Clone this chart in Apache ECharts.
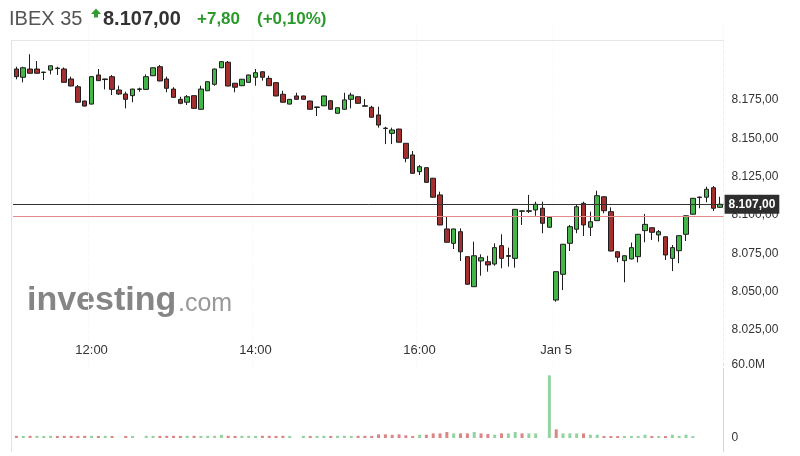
<!DOCTYPE html>
<html>
<head>
<meta charset="utf-8">
<script src="https://cdn.jsdelivr.net/npm/echarts@6/dist/echarts.min.js"></script>
<style>
html,body{margin:0;padding:0;background:#fff;}
#c{width:800px;height:456px;}
</style>
</head>
<body>
<div id="c"></div>
<script>
// ---------- DATA ----------
const categories = [
'11:05','11:10','11:15','11:20','11:25','11:30','11:35','11:40','11:45','11:50','11:55',
'12:00','12:05','12:10','12:15','12:20','12:25','12:30','12:35','12:40','12:45','12:50','12:55',
'13:00','13:05','13:10','13:15','13:20','13:25','13:30','13:35','13:40','13:45','13:50','13:55',
'14:00','14:05','14:10','14:15','14:20','14:25','14:30','14:35','14:40','14:45','14:50','14:55',
'15:00','15:05','15:10','15:15','15:20','15:25','15:30','15:35','15:40','15:45','15:50','15:55',
'16:00','16:05','16:10','16:15','16:20','16:25','16:30','16:35','16:40','16:45','16:50','16:55',
'17:00','17:05','17:10','17:15','17:20','17:25','17:30','17:35',
'Jan 5','09:05','09:10','09:15','09:20','09:25','09:30','09:35','09:40','09:45','09:50','09:55',
'10:00','10:05','10:10','10:15','10:20','10:25','10:30','10:35','10:40','10:45','10:50','10:55',
'11:00'
];
const xTickLabels = ['12:00','14:00','16:00','Jan 5'];
const openV = [
8195.3,8189.9,8195.3,8195.3,8193.3,8194.6,8195.6,8195.3,8188.8,8183.7,
8174.4,8172.4,8191.4,8188.8,8190.3,8181.6,8179.0,8177.9,8182.0,8182.0,
8190.9,8196.8,8188.8,8182.2,8175.5,8173.6,8177.9,8169.0,8181.1,8185.3,
8196.1,8199.7,8186.0,8184.4,8186.6,8189.9,8193.5,8189.2,8186.4,8178.8,
8172.4,8177.7,8177.7,8174.4,8170.5,8171.3,8174.6,8166.4,8169.0,8175.5,
8177.2,8171.3,8170.3,8165.3,8156.5,8153.3,8156.1,8146.8,8139.2,8128.3,
8130.9,8124.0,8113.1,8090.9,8081.5,8089.1,8072.8,8053.2,8070.0,8069.5,
8068.0,8080.0,8073.5,8071.7,8102.4,8102.4,8103.3,8104.4,8092.0,8044.5,
8061.3,8081.5,8090.7,8107.6,8092.0,8096.3,8111.9,8102.2,8076.0,8070.2,
8071.3,8072.8,8089.8,8091.7,8087.0,8085.8,8071.7,8076.7,8087.4,8100.5,
8111.4,8111.6,8117.8,8105.0
];
const closeV = [
8190.3,8196.1,8192.5,8192.5,8193.0,8197.4,8195.9,8186.6,8184.2,8173.6,
8171.1,8190.3,8187.7,8188.4,8182.0,8179.0,8175.5,8182.2,8182.3,8190.3,
8196.1,8187.5,8182.7,8176.8,8172.9,8177.2,8169.6,8182.2,8187.0,8195.3,
8200.1,8184.2,8183.4,8188.6,8191.4,8192.9,8189.9,8184.4,8177.7,8173.6,
8175.5,8175.5,8175.5,8169.0,8170.2,8177.7,8169.0,8170.0,8175.1,8178.3,
8172.9,8171.0,8163.8,8158.7,8156.7,8155.5,8147.5,8137.0,8127.2,8131.5,
8121.3,8111.6,8093.5,8082.2,8090.9,8076.0,8054.8,8073.4,8072.1,8067.4,
8078.7,8071.7,8073.0,8103.7,8102.7,8102.8,8107.0,8094.6,8098.5,8063.0,
8080.9,8092.4,8105.4,8093.5,8095.6,8112.6,8102.8,8076.5,8072.4,8073.4,
8078.7,8087.4,8093.9,8088.7,8089.1,8073.9,8078.7,8086.5,8099.5,8110.9,
8111.7,8116.8,8104.4,8107.0
];
const lowV = [
8188.6,8186.6,8192.5,8192.5,8188.1,8191.8,8191.4,8186.4,8184.0,8173.4,
8170.9,8172.2,8187.5,8182.0,8178.3,8178.3,8169.6,8173.6,8180.5,8181.8,
8190.7,8187.3,8180.1,8176.6,8172.3,8171.8,8169.4,8168.8,8180.9,8184.4,
8195.9,8184.0,8180.1,8184.2,8186.4,8184.4,8187.7,8184.2,8177.5,8173.4,
8172.2,8175.3,8175.3,8168.8,8164.6,8171.1,8168.8,8166.2,8168.8,8169.6,
8172.7,8170.9,8163.6,8157.0,8146.3,8146.3,8147.3,8134.4,8127.0,8126.1,
8121.1,8111.4,8093.3,8082.0,8077.8,8070.0,8054.6,8053.0,8060.4,8063.0,
8066.9,8065.2,8066.3,8065.6,8093.5,8101.3,8099.5,8088.1,8091.8,8043.4,
8051.0,8076.5,8088.1,8086.3,8086.3,8096.1,8101.1,8076.3,8069.1,8056.1,
8071.1,8069.1,8082.2,8083.7,8082.6,8070.6,8063.4,8068.5,8083.0,8100.3,
8104.4,8108.3,8102.6,8104.8
];
const highV = [
8196.8,8196.8,8204.9,8200.5,8193.5,8197.6,8196.8,8196.3,8190.3,8184.9,
8174.6,8190.5,8195.3,8189.0,8191.4,8184.4,8180.5,8182.4,8183.1,8191.8,
8196.3,8197.9,8190.3,8183.4,8177.2,8178.3,8178.1,8184.4,8187.2,8195.5,
8200.3,8200.5,8186.2,8188.8,8191.6,8195.3,8193.7,8190.9,8186.6,8181.1,
8175.7,8179.8,8177.9,8174.6,8170.7,8177.9,8174.8,8170.2,8179.8,8179.8,
8177.4,8175.7,8171.3,8170.7,8157.6,8157.0,8156.3,8147.0,8141.8,8132.6,
8131.1,8124.2,8115.2,8098.9,8091.1,8091.3,8073.0,8082.6,8074.3,8073.4,
8081.5,8087.4,8078.7,8103.9,8103.0,8113.1,8108.7,8108.7,8098.7,8063.2,
8081.1,8093.5,8107.0,8108.7,8102.2,8115.9,8112.1,8105.0,8076.2,8073.6,
8082.0,8087.6,8100.7,8091.9,8090.2,8086.0,8080.4,8086.7,8099.7,8111.1,
8112.0,8118.5,8118.9,8111.9
];
// volume in millions
const volumeM = [
1.8,1.7,1.8,1.8,1.7,1.8,1.7,1.8,1.8,1.7,1.8,1.8,1.7,1.8,1.7,
0,1.7,1.7,0,
1.8,1.8,1.7,1.8,1.8,1.7,1.8,1.8,1.7,1.8,1.8,
2.6,
1.8,1.7,1.8,1.8,1.7,1.8,1.8,1.7,1.8,1.7,
0,
1.8,1.7,1.8,1.8,1.7,1.8,1.8,1.7,1.8,1.8,1.7,
3.0,3.0,2.6,3.0,
2.2,1.6,2.7,2.7,3.8,3.8,4.9,3.8,3.8,3.8,4.9,3.8,3.3,2.7,3.8,3.8,4.9,3.8,3.8,3.8,0,
51.5,7.1,3.8,3.8,3.8,3.8,2.7,2.7,1.6,1.6,1.6,1.6,1.6,1.6,2.7,1.6,1.6,1.6,2.7,1.6,2.7,1.6,
0,0,0,0
];
const priceTicks = [8025, 8050, 8075, 8100, 8125, 8150, 8175];
const volumeTicks = [0, 60];
const indexName = 'IBEX 35';
const lastPrice = 8107.00;
const priceChange = 7.80;
const pctChange = 0.10;
const prevClose = 8099.20;

// ---------- HELPERS ----------
function fmtEU(v, d) {
  const s = Math.abs(v).toFixed(d);
  const parts = s.split('.');
  const int = parts[0].replace(/\B(?=(\d{3})+(?!\d))/g, '.');
  return (v < 0 ? '-' : '') + int + (parts[1] ? ',' + parts[1] : '');
}
const FONT = "'Liberation Sans', Arial, sans-serif";
const UP = '#44b649', DOWN = '#a3302f', EDGE = '#1e1e1e';

const candleData = openV.map((o, i) => [o, closeV[i], lowV[i], highV[i]]);
const volData = volumeM.map((v, i) => {
  const ref = i === 0 ? openV[0] : closeV[i - 1];
  const up = closeV[i] >= ref;
  return { value: v, itemStyle: { color: up ? '#93d3a2' : '#db8585' } };
});
const showTick = (idx, val) => xTickLabels.indexOf(val) >= 0;

const chart = echarts.init(document.getElementById('c'), null, { renderer: 'canvas' });
const plotLeft = 13, plotWidth = 710.6;

chart.setOption({
  animation: false,
  backgroundColor: '#fff',
  textStyle: { fontFamily: FONT },
  grid: [
    { left: plotLeft, width: plotWidth, top: 23.5, height: 344.7 },
    { left: plotLeft, width: plotWidth, top: 365, height: 73 }
  ],
  xAxis: [
    { type: 'category', gridIndex: 0, data: categories, boundaryGap: true,
      axisLine: { show: false }, axisTick: { show: false }, axisLabel: { show: false },
      splitLine: { show: true, interval: showTick, lineStyle: { color: '#f8f8f8', type: 'dashed' } } },
    { type: 'category', gridIndex: 1, data: categories, boundaryGap: true, position: 'top',
      axisLine: { show: false }, axisTick: { show: false },
      axisLabel: { show: true, interval: showTick, color: '#333', fontSize: 13, fontFamily: FONT, margin: 8 },
      splitLine: { show: false } }
  ],
  yAxis: [
    { type: 'value', gridIndex: 0, position: 'right', min: 8000, max: 8225, interval: 25,
      axisLine: { show: false }, axisTick: { show: false }, splitLine: { show: false },
      axisLabel: { color: '#333', fontSize: 12, fontFamily: FONT, margin: 8,
        formatter: v => priceTicks.indexOf(v) >= 0 ? fmtEU(v, 2) : '' } },
    { type: 'value', gridIndex: 1, position: 'right', min: volumeTicks[0], max: volumeTicks[1], interval: 60,
      axisLine: { show: false }, axisTick: { show: false }, splitLine: { show: false },
      axisLabel: { color: '#333', fontSize: 12, fontFamily: FONT, margin: 8,
        formatter: v => v === 0 ? '0' : v.toFixed(1) + 'M' } }
  ],
  series: [
    { type: 'candlestick', xAxisIndex: 0, yAxisIndex: 0, data: candleData, barWidth: 5,
      itemStyle: { color: UP, color0: DOWN, borderColor: EDGE, borderColor0: EDGE, borderWidth: 1 },
      markLine: { silent: true, symbol: 'none', animation: false,
        data: [
          { yAxis: prevClose, lineStyle: { color: '#e58a8c', width: 1.2, type: 'solid' }, label: { show: false } },
          { yAxis: lastPrice, lineStyle: { color: '#333', width: 1, type: 'solid' },
            label: { show: true, position: 'end', distance: 1, formatter: fmtEU(lastPrice, 2),
              backgroundColor: '#2e2e2e', color: '#fff', fontWeight: 'bold', fontSize: 12,
              fontFamily: FONT, padding: [4, 4, 3, 4] } }
        ] } },
    { type: 'bar', xAxisIndex: 1, yAxisIndex: 1, data: volData, barWidth: 3 }
  ],
  graphic: [
    { type: 'line', shape: { x1: 11.5, y1: 40, x2: 11.5, y2: 452 }, style: { stroke: '#e3e3e3', lineWidth: 1 }, silent: true },
    { type: 'line', shape: { x1: 11, y1: 40.5, x2: 724, y2: 40.5 }, style: { stroke: '#e6e6e6', lineWidth: 1 }, silent: true },
    { type: 'line', shape: { x1: 723.5, y1: 40, x2: 723.5, y2: 360 }, style: { stroke: '#ececec', lineWidth: 1 }, silent: true },
    { type: 'line', shape: { x1: 723.5, y1: 362, x2: 723.5, y2: 452 }, style: { stroke: '#ccd6eb', lineWidth: 1 }, silent: true },
    // watermark
    { type: 'text', left: 27, top: 284, z: -1, silent: true,
      style: { text: 'investing', font: "bold 34px " + FONT, fill: '#858585' } },
    { type: 'text', left: 178, top: 292, z: -1, silent: true,
      style: { text: '.com', font: "25px " + FONT, fill: '#999' } },
    // header
    { type: 'text', left: 9, top: 9, silent: true,
      style: { text: indexName, font: "20px " + FONT, fill: '#555' } },
    { type: 'polygon', silent: true, shape: { points: [[91, 14], [96, 8.5], [101, 14]] }, style: { fill: '#2f9e2f' } },
    { type: 'rect', silent: true, shape: { x: 94, y: 13.5, width: 4, height: 4 }, style: { fill: '#2f9e2f' } },
    { type: 'text', left: 103, top: 9, silent: true,
      style: { text: fmtEU(lastPrice, 2), font: "bold 20px " + FONT, fill: '#333' } },
    { type: 'text', left: 197, top: 11, silent: true,
      style: { text: '+' + fmtEU(priceChange, 2), font: "bold 17px " + FONT, fill: '#2a9a2a' } },
    { type: 'text', left: 257, top: 11, silent: true,
      style: { text: '(+' + fmtEU(pctChange, 2) + '%)', font: "bold 17px " + FONT, fill: '#2a9a2a' } }
  ]
});
</script>
</body>
</html>
